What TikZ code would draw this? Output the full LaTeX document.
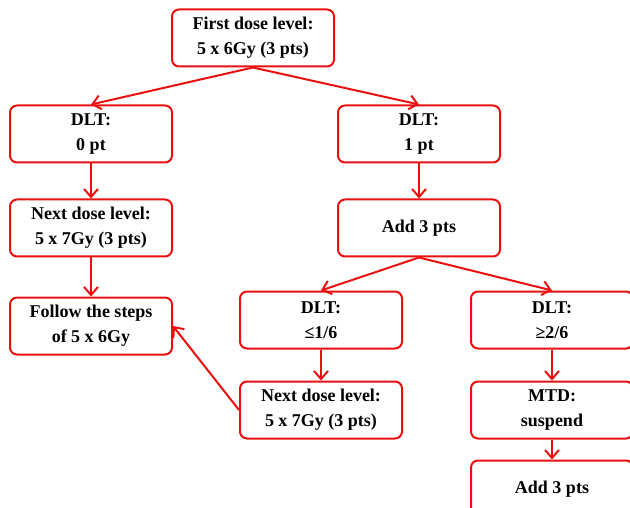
\documentclass[tikz,border=0pt]{standalone}
\usepackage{fontspec}
\setmainfont{Liberation Serif}
\usetikzlibrary{positioning,arrows.meta}

\tikzset{
  stepbox/.style = {draw=doseRed, line width=2pt, rounded corners=7pt,
                    minimum width=162pt, minimum height=57pt, align=center,
                    font=\fontsize{18}{25}\selectfont\bfseries},
  flow/.style    = {draw=doseRed, line width=2pt,
                    -{Straight Barb[length=8pt,width=14pt,line width=2pt]}}
}
\definecolor{doseRed}{RGB}{235,16,16}

\begin{document}
\begin{tikzpicture}[x=1pt,y=1pt]
  \clip (0,0) rectangle (630,-508);
  \useasboundingbox (0,0) rectangle (630,-508);
  \node[stepbox] (first) at (253,-38) {First dose level:\\5 x 6Gy (3 pts)};
  % left branch
  \node[stepbox] (dltzero) at (91,-134) {DLT:\\0 pt};
  \node[stepbox, below=35pt of dltzero] (nextleft) {Next dose level:\\5 x 7Gy (3 pts)};
  \node[stepbox, below=39pt of nextleft] (follow) {Follow the steps\\of 5 x 6Gy};
  % right branch
  \node[stepbox] (dltone) at (419,-134) {DLT:\\1 pt};
  \node[stepbox, below=35pt of dltone] (addmid) {Add 3 pts};
  \node[stepbox] (dltlow) at (321,-320) {DLT:\\≤1/6};
  \node[stepbox, below=31pt of dltlow] (nextright) {Next dose level:\\5 x 7Gy (3 pts)};
  \node[stepbox] (dlthigh) at (552,-320) {DLT:\\≥2/6};
  \node[stepbox, below=31pt of dlthigh] (mtd) {MTD:\\suspend};
  \node[stepbox, below=20pt of mtd] (addlow) {Add 3 pts};

  \draw[flow] (first.south) -- (dltzero.north);
  \draw[flow] (first.south) -- (dltone.north);
  \draw[flow] (dltzero) -- (nextleft);
  \draw[flow] (nextleft) -- (follow);
  \draw[flow] (dltone) -- (addmid);
  \draw[flow] (addmid.south) -- (dltlow.north);
  \draw[flow] (addmid.south) -- (dlthigh.north);
  \draw[flow] (dltlow) -- (nextright);
  \draw[flow] (nextright.west) -- (follow.east);
  \draw[flow] (dlthigh) -- (mtd);
  \draw[flow] (mtd) -- (addlow);
\end{tikzpicture}
\end{document}
